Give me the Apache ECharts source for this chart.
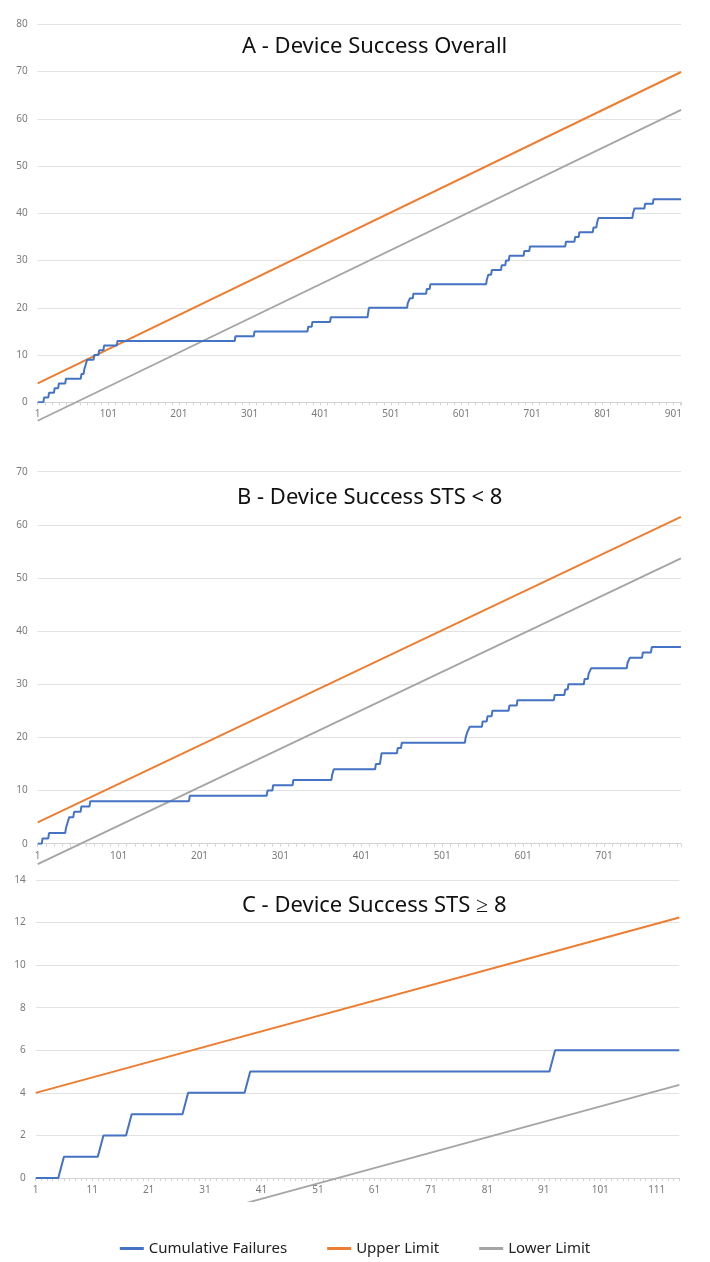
<!DOCTYPE html>
<html><head><meta charset="utf-8">
<script src="https://cdn.jsdelivr.net/npm/echarts@6/dist/echarts.min.js"></script>
<style>html,body{margin:0;padding:0;background:#fff}#c{width:710px;height:1262px}</style>
</head><body><div id="c"></div>
<script>
// ---------- DATA ----------
const seriesNames = ['Cumulative Failures', 'Upper Limit', 'Lower Limit'];
const panelTitles = ['A - Device Success Overall', 'B - Device Success STS < 8', 'C - Device Success STS \u2265 8'];

// Panel A: observation numbers (1-based) at which the cumulative failure count rises by one
const A_count = 912;
const A_failureAt = [10,17,25,31,41,63,67,69,71,81,88,95,114,281,308,384,390,416,469,470,525,528,533,552,557,637,639,644,658,664,669,690,698,749,762,768,788,793,795,844,846,861,873];
const A_limitX = [1, 912];
const A_upper = [4.0, 69.9];
const A_lower = [-3.9, 61.9];
const A_yMax = 80, A_yStep = 10, A_xStep = 100;

// Panel B
const B_count = 796;
const B_failureAt = [7,15,36,38,40,46,55,66,189,285,292,317,365,367,419,425,426,446,451,530,532,535,551,557,563,584,594,640,653,657,677,682,685,730,733,749,760];
const B_limitX = [1, 796];
const B_upper = [4.0, 61.5];
const B_lower = [-3.85, 53.7];
const B_yMax = 70, B_yStep = 10, B_xStep = 100;

// Panel C
const C_count = 115;
const C_failureAt = [6,13,18,28,39,93];
const C_limitX = [1, 115];
const C_upper = [4.0, 12.24];
const C_lower = [-3.87, 4.37];
const C_yMax = 14, C_yStep = 2, C_xStep = 10;

// ---------- BUILD ----------
const FONT = 'Noto Sans';
const COLORS = ['#4472C4', '#ED7D31', '#A5A5A5'];

// axis coordinate = observation - 1 (labels add 1 back)
function stepPoints(failAt, count) {
  const p = [[0, 0]];
  failAt.forEach((n, i) => { p.push([n - 2, i]); p.push([n - 1, i + 1]); });
  p.push([count - 1, failAt.length]);
  return p;
}
function linePoints(xs, ys) { return xs.map((x, i) => [x - 1, ys[i]]); }

const panels = [
  {count: A_count, fail: A_failureAt, lx: A_limitX, up: A_upper, lo: A_lower, yMax: A_yMax, yStep: A_yStep, xStep: A_xStep},
  {count: B_count, fail: B_failureAt, lx: B_limitX, up: B_upper, lo: B_lower, yMax: B_yMax, yStep: B_yStep, xStep: B_xStep},
  {count: C_count, fail: C_failureAt, lx: C_limitX, up: C_upper, lo: C_lower, yMax: C_yMax, yStep: C_yStep, xStep: C_xStep}
];

const gridBoxes = [
  {left: 37.7, top: 24.3, width: 643.4, height: 378},
  {left: 37.7, top: 471.7, width: 643.2, height: 372},
  {left: 35.7, top: 880, width: 643.6, height: 298}
];
// overlay grid for panel C lower limit: same scale, extends a little below the axis (clip region)
const cExtra = 23;
gridBoxes.push({left: 35.7, top: 880, width: 643.6, height: 298 + cExtra});

const titlePos = [{left: 237, top: 31}, {left: 232, top: 481.5}, {left: 237, top: 890}];

const grids = gridBoxes.map(g => Object.assign({outerBoundsMode: 'none', containLabel: false}, g));
const xAxes = [], yAxes = [], series = [];

panels.forEach((p, i) => {
  xAxes.push({
    type: 'value', gridIndex: i, min: 0, max: p.count - 1, interval: p.xStep,
    axisLine: {show: true, onZero: false, lineStyle: {color: '#d4d4d4', width: 1}},
    axisTick: {show: true, length: 3, lineStyle: {color: '#d4d4d4'}},
    minorTick: {show: true, splitNumber: 10, length: 3, lineStyle: {color: '#d4d4d4'}},
    splitLine: {show: false},
    axisLabel: {show: true, formatter: v => String(Math.round(v) + 1), showMaxLabel: false, showMinLabel: true,
      color: '#7b7b7b', fontSize: 10, fontFamily: FONT, margin: 7, hideOverlap: false}
  });
  yAxes.push({
    type: 'value', gridIndex: i, min: 0, max: p.yMax, interval: p.yStep,
    axisLine: {show: false}, axisTick: {show: false},
    splitLine: {show: true, lineStyle: {color: '#e2e2e2', width: 1}},
    axisLabel: {color: '#7b7b7b', fontSize: 10, fontFamily: FONT, margin: 10}
  });
});
// overlay axes (hidden) for panel C lower limit
xAxes.push({type: 'value', gridIndex: 3, min: 0, max: C_count - 1, show: false});
yAxes.push({type: 'value', gridIndex: 3, min: C_yMax - C_yMax * (298 + cExtra) / 298, max: C_yMax, show: false});

panels.forEach((p, i) => {
  series.push({
    type: 'line', name: seriesNames[0], xAxisIndex: i, yAxisIndex: i,
    data: stepPoints(p.fail, p.count), symbol: 'none', showSymbol: false,
    lineStyle: {color: COLORS[0], width: 2}, itemStyle: {color: COLORS[0]}, z: 4
  });
  series.push({
    type: 'line', name: seriesNames[1], xAxisIndex: i, yAxisIndex: i,
    data: linePoints(p.lx, p.up), symbol: 'none', showSymbol: false,
    lineStyle: {color: COLORS[1], width: 2}, itemStyle: {color: COLORS[1]}, z: 3
  });
  const lowerAxis = (i === 2) ? 3 : i;
  series.push({
    type: 'line', name: seriesNames[2], xAxisIndex: lowerAxis, yAxisIndex: lowerAxis,
    data: linePoints(p.lx, p.lo), symbol: 'none', showSymbol: false, clip: i !== 2 ? false : true,
    lineStyle: {color: COLORS[2], width: 1.8}, itemStyle: {color: COLORS[2]}, z: 3
  });
});

const option = {
  animation: false,
  backgroundColor: '#ffffff',
  textStyle: {fontFamily: FONT},
  title: panelTitles.map((t, i) => ({
    text: t, left: titlePos[i].left, top: titlePos[i].top, textAlign: 'left',
    textStyle: {fontSize: 22, fontWeight: 'normal', color: '#111111', fontFamily: FONT}
  })),
  legend: {
    data: seriesNames, top: 1236, left: 'center', icon: 'rect', itemWidth: 24, itemHeight: 3, itemGap: 40,
    textStyle: {fontSize: 15, color: '#222222', fontFamily: FONT}
  },
  grid: grids,
  xAxis: xAxes,
  yAxis: yAxes,
  series: series
};

const chart = echarts.init(document.getElementById('c'), null, {renderer: 'canvas'});
chart.setOption(option);
</script>
</body></html>
